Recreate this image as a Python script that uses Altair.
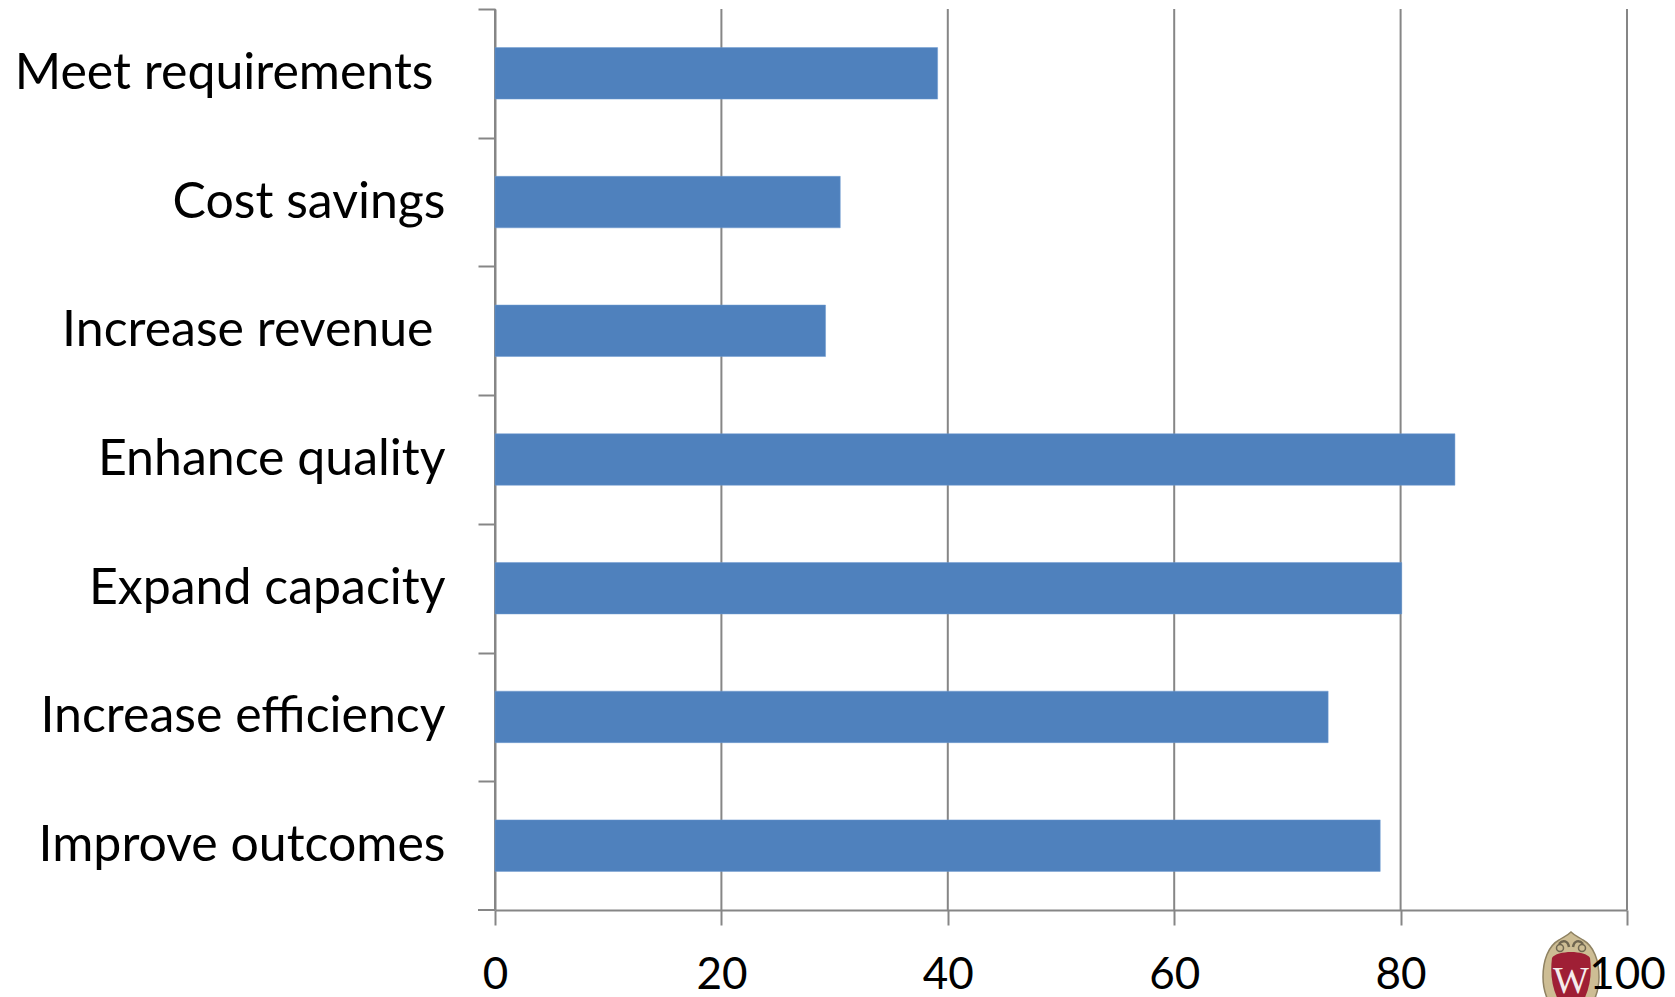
import urllib.parse
import altair as alt
import pandas as pd

categories = ["Meet requirements", "Cost savings", "Increase revenue", "Enhance quality",
              "Expand capacity", "Increase efficiency", "Improve outcomes"]
values = [39.1, 30.5, 29.2, 84.8, 80.1, 73.6, 78.2]
x_ticks = [0, 20, 40, 60, 80, 100]

crest = """<svg xmlns="http://www.w3.org/2000/svg" viewBox="0 0 60 92">
<path d="M30 1 C34 5 38 6 42 9 C53 15 58 30 58 46 C58 66 48 84 30 91 C12 84 2 66 2 46 C2 30 7 15 18 9 C22 6 26 5 30 1Z" fill="#cdbd94" stroke="#8f8262" stroke-width="1.5"/>
<path d="M18 13 C22 8 27 10 28 16 M42 13 C38 8 33 10 32 16" fill="none" stroke="#6f6650" stroke-width="2.5"/>
<circle cx="19" cy="17" r="3.5" fill="none" stroke="#6f6650" stroke-width="1.5"/>
<circle cx="41" cy="17" r="3.5" fill="none" stroke="#6f6650" stroke-width="1.5"/>
<path d="M30 21 C38 21 47 23 49 27 C52 50 46 72 30 84 C14 72 8 50 11 27 C13 23 22 21 30 21Z" fill="#9f1f35"/>
<text x="30" y="62" font-family="Liberation Serif" font-size="38" fill="#f4ecec" text-anchor="middle">W</text>
</svg>"""
crest_url = "data:image/svg+xml," + urllib.parse.quote(crest)

df = pd.DataFrame({"category": categories, "value": values})
ticks_df = pd.DataFrame({"tick": x_ticks})

LINE = "#868686"
STEP = 901 / len(categories)

x_scale = alt.Scale(domain=[0, 100], nice=False)
x_axis = alt.Axis(values=x_ticks, title=None, grid=False,
                  domainColor=LINE, domainWidth=2, tickColor=LINE, tickWidth=2, tickSize=15,
                  labelFont="Lato", labelFontSize=44, labelColor="black", labelPadding=28,
                  labelBaseline="top", zindex=1, labelFlush=False)

grid = alt.Chart(ticks_df).mark_rule(color=LINE, strokeWidth=2).encode(
    x=alt.X("tick:Q", scale=x_scale, axis=x_axis),
)

bars = alt.Chart(df).mark_bar(color="#4F81BD", stroke="#6f9bd1", strokeWidth=0.5).encode(
    x=alt.X("value:Q", scale=x_scale, axis=x_axis),
    y=alt.Y("category:N", sort=categories,
            scale=alt.Scale(paddingInner=0.6, paddingOuter=0.3),
            axis=alt.Axis(title=None, grid=False, domainColor=LINE, domainWidth=2, tickColor=LINE,
                          tickWidth=2, tickSize=17, tickBand="center", tickOffset=-STEP / 2,
                          labelOffset=STEP / 2,
                          tickExtra=True, labelFont="Lato",
                          labelFontSize=50, labelColor="black",
                          labelPadding={"condition": {
                              "test": "datum.value === 'Meet requirements' || datum.value === 'Increase revenue'",
                              "value": 45}, "value": 33},
                          labelLimit=480,
                          zindex=0)),
)

bottom_tick = alt.Chart(pd.DataFrame({"k": [0]})).mark_rule(color=LINE, strokeWidth=2).encode(
    x=alt.value(-17), x2=alt.value(0), y=alt.value(901)
)

logo = alt.Chart(pd.DataFrame({"url": [crest_url]})).mark_image(
    width=60, height=92, align="center", baseline="middle"
).encode(url="url:N", x=alt.value(1076), y=alt.value(968))

chart = (grid + bars + bottom_tick + logo).properties(
    width=1132, height=901,
    background="white",
    autosize=alt.AutoSizeParams(type="none"),
    padding={"left": 487, "top": 1, "right": 40, "bottom": 87},
).configure_view(stroke=None)

chart.save("out.html", embed_options={"renderer": "svg", "actions": False})
